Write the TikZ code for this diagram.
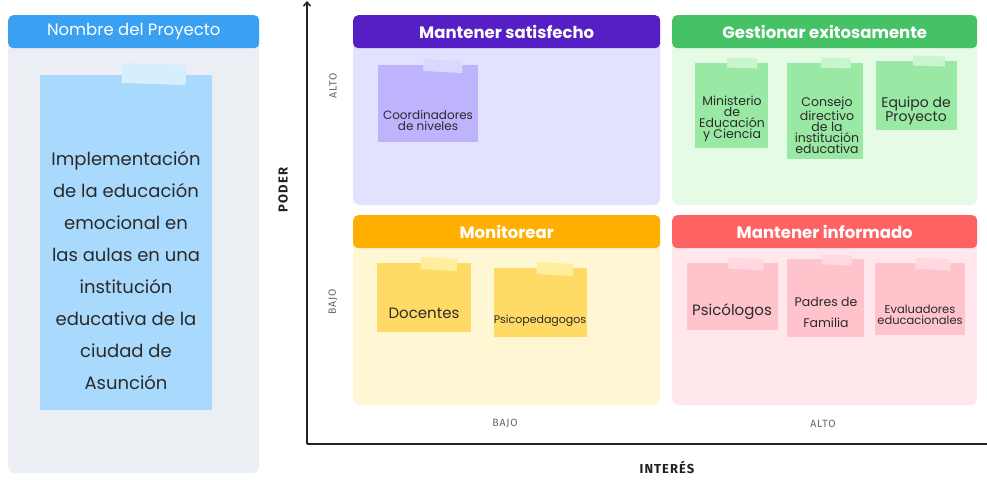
\documentclass[tikz,border=0pt]{standalone}
\usepackage{fontspec}
\setmainfont{Poppins}
\newfontfamily\axisfont[LetterSpace=8]{Fira Sans}
\usetikzlibrary{arrows.meta}
\definecolor{txtc}{HTML}{2A2A2A}
\definecolor{lpbg}{HTML}{EBEEF2}
\definecolor{lphead}{HTML}{3AA1F2}
\definecolor{bstick}{HTML}{A9D9FD}
\definecolor{btape}{HTML}{D5EFFD}
\definecolor{phead}{HTML}{561FC5}
\definecolor{pbody}{HTML}{E3E2FE}
\definecolor{pstick}{HTML}{BEB4FE}
\definecolor{ptape}{HTML}{D9D9FF}
\definecolor{ghead}{HTML}{45C266}
\definecolor{gbody}{HTML}{E6FBE6}
\definecolor{gstick}{HTML}{99E9A5}
\definecolor{gtape}{HTML}{C9F5CE}
\definecolor{ohead}{HTML}{FFAF00}
\definecolor{obody}{HTML}{FFF7D3}
\definecolor{ostick}{HTML}{FFDB66}
\definecolor{otape}{HTML}{FFEE9E}
\definecolor{rhead}{HTML}{FF6262}
\definecolor{rbody}{HTML}{FFE7EB}
\definecolor{rstick}{HTML}{FFC3CB}
\definecolor{rtape}{HTML}{FFD9DF}
\definecolor{axc}{HTML}{222222}
\definecolor{lblc}{HTML}{666666}
\tikzset{
  panel/.style={draw=none, inner sep=0pt, rounded corners=7pt, anchor=north west},
  hdr/.style={draw=none, inner sep=0pt, rounded corners=5pt, anchor=north west, text=white, font=\fontsize{16.5}{18}\selectfont\bfseries},
  sticky/.style={draw=none, inner sep=0pt, anchor=north west},
  tape/.style={draw=none, inner sep=0pt},
  stxt/.style={text=txtc, align=center, inner sep=0pt},
  axlbl/.style={text=lblc, font=\axisfont\fontsize{10.5}{12}\selectfont, inner sep=0pt},
  axtitle/.style={text=axc, font=\axisfont\fontsize{13}{15}\selectfont\bfseries, inner sep=0pt},
}
\begin{document}
\begin{tikzpicture}[x=1pt,y=-1pt]
\useasboundingbox (0,0) rectangle (987,480);
\fill[white] (0,0) rectangle (987,480);
% left panel
\node[panel, fill=lpbg, minimum width=251pt, minimum height=458pt] (lp) at (8,15) {};
\node[hdr, fill=lphead, minimum width=251pt, minimum height=33pt, font=\fontsize{16.5}{18}\selectfont] (lph) at (8,15) {Nombre del Proyecto};
\node[sticky, fill=bstick, minimum width=172pt, minimum height=335pt] (ls) at (40,75) {};
\node[tape, fill=btape, minimum width=64pt, minimum height=20pt, rotate=-2] (lst) at (154,74) {};
\node[stxt, font=\fontsize{18}{32}\selectfont] (lstxt) at (126,270) {Implementación\\de la educación\\emocional en\\las aulas en una\\institución\\educativa de la\\ciudad de\\Asunción};
% axes
\coordinate (orig) at (307,444);
\coordinate (ytop) at (307,1);
\coordinate (xend) at (987,444);
\draw[axc, line width=1.5pt, -{Straight Barb[length=4pt,width=7pt]}] (orig) -- (ytop);
\draw[axc, line width=1.5pt] (orig) -- (xend);
\node[axtitle, rotate=90] (poder) at (283,190) {PODER};
\node[axtitle] (interes) at (667,467) {INTERÉS};
\node[axlbl, rotate=90] (yalto) at (333,86) {ALTO};
\node[axlbl, rotate=90] (ybajo) at (333,302) {BAJO};
\node[axlbl] (xbajo) at (505,424) {BAJO};
\node[axlbl] (xalto) at (823,424) {ALTO};
% top-left quadrant
\node[panel, fill=pbody, minimum width=307pt, minimum height=190pt] (tl) at (353,15) {};
\node[hdr, fill=phead, minimum width=307pt, minimum height=33pt] (tlh) at (353,15) {Mantener satisfecho};
\node[sticky, fill=pstick, minimum width=100pt, minimum height=77pt] (p1) at (378,65) {};
\node[tape, fill=ptape, minimum width=39pt, minimum height=12pt, rotate=-3] (p1t) at (443,66) {};
\node[stxt, font=\fontsize{12}{11}\selectfont] (p1x) at (428,120) {Coordinadores\\de niveles};
% top-right quadrant
\node[panel, fill=gbody, minimum width=305pt, minimum height=190pt] (tr) at (672,15) {};
\node[hdr, fill=ghead, minimum width=305pt, minimum height=33pt] (trh) at (672,15) {Gestionar exitosamente};
\node[sticky, fill=gstick, minimum width=73pt, minimum height=85pt] (g1) at (695,63) {};
\node[tape, fill=gtape, minimum width=30pt, minimum height=10pt, rotate=-2] (g1t) at (742,63) {};
\node[stxt, font=\fontsize{12.5}{11}\selectfont] (g1x) at (732,119) {Ministerio\\de\\Educación\\y Ciencia};
\node[sticky, fill=gstick, minimum width=76pt, minimum height=96pt] (g2) at (787,63) {};
\node[tape, fill=gtape, minimum width=30pt, minimum height=10pt, rotate=-2] (g2t) at (836,63) {};
\node[stxt, font=\fontsize{12.5}{11}\selectfont] (g2x) at (827,125) {Consejo\\directivo\\de la\\institución\\educativa};
\node[sticky, fill=gstick, minimum width=81pt, minimum height=69pt] (g3) at (876,61) {};
\node[tape, fill=gtape, minimum width=32pt, minimum height=10pt, rotate=-2] (g3t) at (929,61) {};
\node[stxt, font=\fontsize{14}{12}\selectfont] (g3x) at (916,111) {Equipo de\\Proyecto};
% bottom-left quadrant
\node[panel, fill=obody, minimum width=307pt, minimum height=190pt] (bl) at (353,215) {};
\node[hdr, fill=ohead, minimum width=307pt, minimum height=33pt] (blh) at (353,215) {Monitorear};
\node[sticky, fill=ostick, minimum width=94pt, minimum height=69pt] (o1) at (377,263) {};
\node[tape, fill=otape, minimum width=36pt, minimum height=12pt, rotate=-3] (o1t) at (439,264) {};
\node[stxt, font=\fontsize{15}{17}\selectfont] (o1x) at (424,313) {Docentes};
\node[sticky, fill=ostick, minimum width=93pt, minimum height=69pt] (o2) at (494,268) {};
\node[tape, fill=otape, minimum width=36pt, minimum height=12pt, rotate=-3] (o2t) at (555,269) {};
\node[stxt, font=\fontsize{11}{13}\selectfont] (o2x) at (540,321) {Psicopedagogos};
% bottom-right quadrant
\node[panel, fill=rbody, minimum width=305pt, minimum height=190pt] (br) at (672,215) {};
\node[hdr, fill=rhead, minimum width=305pt, minimum height=33pt] (brh) at (672,215) {Mantener informado};
\node[sticky, fill=rstick, minimum width=91pt, minimum height=67pt] (r1) at (687,263) {};
\node[tape, fill=rtape, minimum width=35pt, minimum height=11pt, rotate=-3] (r1t) at (746,264) {};
\node[stxt, font=\fontsize{15}{17}\selectfont] (r1x) at (732,312) {Psicólogos};
\node[sticky, fill=rstick, minimum width=77pt, minimum height=78pt] (r2) at (787,259) {};
\node[tape, fill=rtape, minimum width=30pt, minimum height=10pt, rotate=-3] (r2t) at (837,260) {};
\node[stxt, font=\fontsize{12.5}{21}\selectfont] (r2x) at (826,312) {Padres de\\Familia};
\node[sticky, fill=rstick, minimum width=90pt, minimum height=72pt] (r3) at (875,263) {};
\node[tape, fill=rtape, minimum width=35pt, minimum height=11pt, rotate=-3] (r3t) at (933,264) {};
\node[stxt, font=\fontsize{11.5}{11}\selectfont] (r3x) at (920,315) {Evaluadores\\educacionales};
\end{tikzpicture}
\end{document}
